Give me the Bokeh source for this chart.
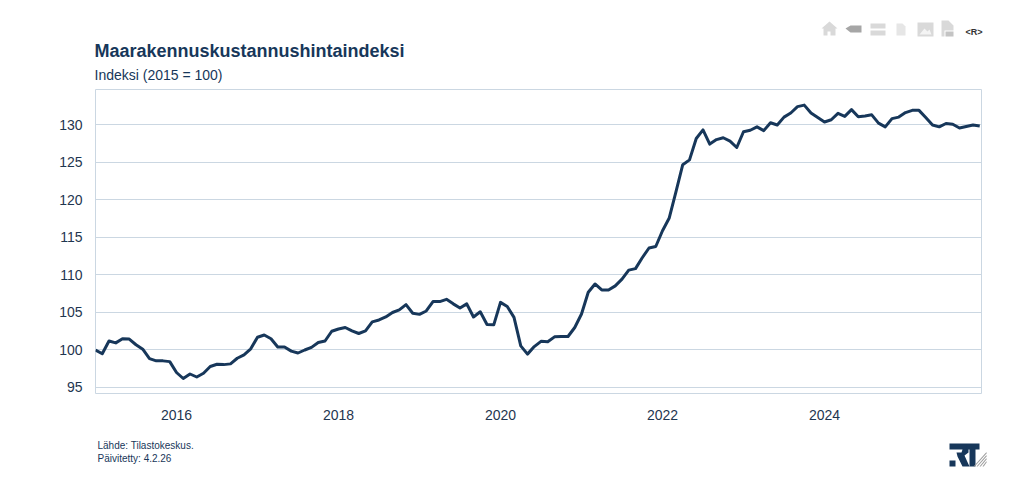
from bokeh.plotting import figure
from bokeh.layouts import column
from bokeh.embed import file_html
from bokeh.resources import INLINE
from bokeh.models import Label, PolyAnnotation, FixedTicker, Range1d

START_YEAR = 2015
index_values = [
 100.0, 99.5, 101.2, 100.95, 101.5, 101.45, 100.7, 100.1, 98.85, 98.55, 98.55, 98.45,
 97.0, 96.2, 96.8, 96.4, 96.9, 97.8, 98.1, 98.05, 98.15, 98.9, 99.35, 100.15,
 101.7, 102.0, 101.5, 100.4, 100.4, 99.85, 99.6, 100.0, 100.35, 101.0, 101.2, 102.5,
 102.8, 103.0, 102.55, 102.2, 102.55, 103.75, 104.0, 104.4, 105.0, 105.35, 106.05, 104.9,
 104.75, 105.2, 106.45, 106.45, 106.75, 106.15, 105.6, 106.15, 104.4, 105.1, 103.4, 103.35,
 106.35, 105.8, 104.35, 100.55, 99.45, 100.45, 101.15, 101.1, 101.75, 101.8, 101.8, 103.0,
 104.8, 107.7, 108.8, 108.0, 108.0, 108.55, 109.45, 110.65, 110.85, 112.3, 113.6, 113.8,
 115.9, 117.6, 121.1, 124.7, 125.35, 128.2, 129.35, 127.45, 128.05, 128.3, 127.85, 127.0,
 129.1, 129.3, 129.75, 129.25, 130.3, 130.0, 131.05, 131.6, 132.45, 132.65, 131.6, 131.0,
 130.4, 130.7, 131.55, 131.15, 132.05, 131.1, 131.2, 131.35, 130.25, 129.75, 130.85, 131.05,
 131.65, 131.95, 131.95, 131.0, 130.0, 129.75, 130.2, 130.1, 129.6, 129.8, 130.0, 129.85,
]
dates = [START_YEAR + i / 12 for i in range(len(index_values))]
y_ticks = [95, 100, 105, 110, 115, 120, 125, 130]
x_ticks = [2016, 2018, 2020, 2022, 2024]
TITLE = "Maarakennuskustannushintaindeksi"
SUBTITLE = "Indeksi (2015 = 100)"
FOOT1 = "Lähde: Tilastokeskus."
FOOT2 = "Päivitetty: 4.2.26"

NAVY = "#17375a"
GRID = "#cbd7e2"
FONT = "Liberation Sans"
W = 1000
LEFT, RIGHT, TOP, BOTTOM = 95, 981, 89, 393
HEAD_END, MAIN_END, PAGE_END = 88, 430, 476
X0, X1 = 2015, 2015 + 886 / 81
Y0, Y1 = 94.2, 134.73

p = figure(width=W, height=MAIN_END - HEAD_END, output_backend="svg", toolbar_location=None,
           x_range=Range1d(X0, X1), y_range=Range1d(Y0, Y1), frame_align=False,
           min_border_left=LEFT, min_border_right=W - RIGHT,
           min_border_top=TOP - HEAD_END, min_border_bottom=MAIN_END - BOTTOM)
p.background_fill_color = "white"
p.border_fill_color = "white"
p.outline_line_color = GRID
p.outline_line_width = 1
p.xgrid.visible = False
p.ygrid.ticker = FixedTicker(ticks=y_ticks)
p.ygrid.grid_line_color = GRID
p.ygrid.grid_line_width = 1

p.yaxis.ticker = FixedTicker(ticks=y_ticks)
p.xaxis.ticker = FixedTicker(ticks=x_ticks)
for ax in (p.xaxis[0], p.yaxis[0]):
    ax.axis_line_color = None
    ax.major_tick_line_color = None
    ax.minor_tick_line_color = None
    ax.major_label_text_font = FONT
    ax.major_label_text_font_size = "14px"
    ax.major_label_text_color = "#1f3650"
p.yaxis[0].major_label_standoff = 7
p.xaxis[0].major_label_standoff = 10

p.line(dates, index_values, line_color=NAVY, line_width=3, line_join="round")


def strip(y_start, y_end):
    """A frameless band of the page whose data coordinates are page pixels."""
    f = figure(width=W, height=y_end - y_start, output_backend="svg", toolbar_location=None,
               x_range=Range1d(0, W), y_range=Range1d(y_end, y_start), frame_align=False,
               min_border_left=0, min_border_right=0, min_border_top=0, min_border_bottom=0)
    f.axis.visible = False
    f.grid.visible = False
    f.outline_line_color = None
    return f


head = strip(0, HEAD_END)
foot = strip(MAIN_END, PAGE_END)


def text(f, x, y, s, size, bold=False, color=NAVY):
    f.add_layout(Label(x=x, y=y, text=s, text_font=FONT, text_font_size=size, text_color=color,
                       text_font_style="bold" if bold else "normal",
                       text_baseline="alphabetic", text_align="left"))


def poly(f, pts, color, dy=0):
    f.add_layout(PolyAnnotation(xs=[a for a, _ in pts], ys=[b + dy for _, b in pts],
                                fill_color=color, fill_alpha=1, line_color=None))


text(head, 94, 50, TITLE, "18px", bold=True)
text(head, 94, 74, SUBTITLE, "14px")
text(foot, 97, 445, FOOT1, "10px")
text(foot, 97, 458, FOOT2, "10px")

# toolbar icons (decorative)
L = "#d9d9d9"
D = "#a6a6a6"
poly(head, [(821, 29), (829, 22), (837, 29), (835, 29), (835, 36), (830, 36), (830, 32), (827, 32), (827, 36), (823, 36), (823, 29)], L, -1)
poly(head, [(845, 29), (850, 26), (861, 26), (861, 33), (850, 33)], D, -1)
poly(head, [(870, 24), (885, 24), (885, 29), (870, 29)], L, -1)
poly(head, [(870, 31), (885, 31), (885, 36), (870, 36)], L, -1)
poly(head, [(896, 24), (902, 24), (905, 27), (905, 36), (896, 36)], "#e6e6e6", -1)
poly(head, [(917, 23), (933, 23), (933, 37), (917, 37)], L, -1)
poly(head, [(919, 35), (924, 29), (927, 32), (929, 30), (931, 35)], "#f4f4f4", -1)
poly(head, [(941, 21), (948, 21), (953, 26), (953, 31), (944, 31), (944, 37), (941, 37)], L, -1)
poly(head, [(945, 32), (953, 32), (953, 37), (945, 37)], "#c4c4c4", -1)
text(head, 965, 31, "<R>", "9px", bold=True, color="#333333")

# RT logo (decorative)
poly(foot, [(949, 443), (966, 443), (968, 446), (968, 452), (964, 455), (969, 466), (962, 466), (957, 456), (956, 452), (961, 452), (962, 449), (949, 449)], NAVY)
poly(foot, [(949, 460), (955, 460), (955, 466), (949, 466)], NAVY)
poly(foot, [(966, 443), (979, 443), (979, 449), (975, 449), (975, 466), (969, 466), (969, 449), (966, 449)], NAVY)
for k in range(4):
    poly(foot, [(973 + 3 * k, 466), (974.2 + 3 * k, 466), (986, 453 + 3 * k), (986, 451.5 + 3 * k)], "#9a9a9a")

page = column(head, p, foot, spacing=0)
open("out.html", "w").write(file_html(page, INLINE))
